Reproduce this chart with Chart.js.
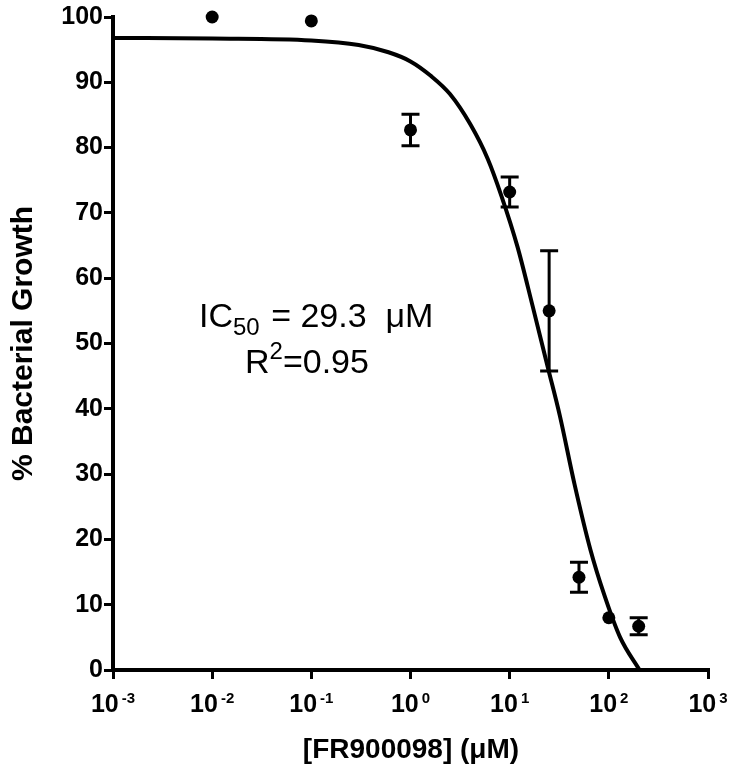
<!DOCTYPE html>
<html><head><meta charset="utf-8">
<script src="https://cdn.jsdelivr.net/npm/chart.js@4"></script>
<style>html,body{margin:0;padding:0;background:#fff}#wrap{width:732px;height:784px;position:relative}</style>
</head><body><div id="wrap"><canvas id="c"></canvas></div>
<script>
// Measured data (concentration in µM, % growth, ± error)
const concentrations = [0.01, 0.1, 1, 10, 25, 50, 100, 200];
const growth = [100, 99.4, 82.7, 73.2, 55.0, 14.2, 8.0, 6.7];
const errors = [0, 0, 2.4, 2.3, 9.2, 2.3, 0, 1.3];
// Fitted curve
const fitX = [0.001, 0.01, 0.1, 0.3, 0.6, 1.0, 1.6, 2.5, 4, 6, 8.3, 12, 17, 24.3, 32, 45, 65, 90, 130, 204];
const fitY = [96.8, 96.7, 96.4, 95.7, 94.6, 93.2, 91.0, 88.2, 83.6, 78.3, 72.5, 64.8, 55.8, 46.3, 39.0, 28.5, 18.5, 11.5, 5.0, 0];
const xTickExponents = [-3, -2, -1, 0, 1, 2, 3];
const yTickValues = [0, 10, 20, 30, 40, 50, 60, 70, 80, 90, 100];
const xTitle = '[FR900098] (\u03bcM)';
const yTitle = '% Bacterial Growth';

const FONT = '"Liberation Sans", Arial, Helvetica, sans-serif';

const errorBars = {
  id: 'errorBars',
  afterDatasetsDraw(chart) {
    const ctx = chart.ctx, xs = chart.scales.x, ys = chart.scales.y;
    ctx.save();
    ctx.strokeStyle = '#000';
    ctx.lineWidth = 3;
    concentrations.forEach((c, i) => {
      if (!errors[i]) return;
      const px = xs.getPixelForValue(c);
      const top = ys.getPixelForValue(growth[i] + errors[i]);
      const bot = ys.getPixelForValue(growth[i] - errors[i]);
      ctx.beginPath();
      ctx.moveTo(px, top); ctx.lineTo(px, bot);
      ctx.moveTo(px - 9, top); ctx.lineTo(px + 9, top);
      ctx.moveTo(px - 9, bot); ctx.lineTo(px + 9, bot);
      ctx.stroke();
    });
    ctx.restore();
  }
};

const customText = {
  id: 'customText',
  afterDraw(chart) {
    const ctx = chart.ctx, xs = chart.scales.x;
    ctx.save();
    ctx.fillStyle = '#000';
    ctx.textBaseline = 'alphabetic';
    ctx.textAlign = 'left';
    // x tick labels 10^n
    xTickExponents.forEach(e => {
      const px = xs.getPixelForValue(Math.pow(10, e));
      const sup = e < 0 ? '-' + Math.abs(e) : String(e);
      ctx.font = 'bold 25px ' + FONT;
      const w1 = ctx.measureText('10').width;
      ctx.font = 'bold 15px ' + FONT;
      const w2 = ctx.measureText(sup).width;
      const start = px - (w1 + w2 + 3) / 2;
      ctx.font = 'bold 25px ' + FONT;
      ctx.fillText('10', start, 712);
      ctx.font = 'bold 15px ' + FONT;
      ctx.fillText(sup, start + w1 + 3, 703);
    });
    // x title
    ctx.font = 'bold 28px ' + FONT;
    ctx.textAlign = 'center';
    ctx.fillText(xTitle, 411, 758);
    // annotation
    ctx.textAlign = 'left';
    let x = 199;
    ctx.font = '34px ' + FONT;
    ctx.fillText('IC', x, 327); x += ctx.measureText('IC').width;
    ctx.font = '24px ' + FONT;
    ctx.fillText('50', x, 335); x += ctx.measureText('50').width + 2;
    ctx.font = '34px ' + FONT;
    ctx.fillText(' = 29.3  \u03bcM', x, 327);
    x = 245;
    ctx.fillText('R', x, 373); x += ctx.measureText('R').width;
    ctx.font = '24px ' + FONT;
    ctx.fillText('2', x, 359); x += ctx.measureText('2').width;
    ctx.font = '34px ' + FONT;
    ctx.fillText('=0.95', x, 373);
    ctx.restore();
  }
};

new Chart(document.getElementById('c'), {
  type: 'scatter',
  data: {
    datasets: [
      {
        label: 'fit',
        data: fitX.map((v, i) => ({ x: v, y: fitY[i] })),
        showLine: true,
        borderColor: '#000',
        borderWidth: 4,
        pointRadius: 0,
        cubicInterpolationMode: 'monotone',
        fill: false
      },
      {
        label: 'data',
        data: concentrations.map((v, i) => ({ x: v, y: growth[i] })),
        showLine: false,
        clip: false,
        backgroundColor: '#000',
        borderColor: '#000',
        pointRadius: 6.5,
        pointBorderWidth: 0
      }
    ]
  },
  options: {
    responsive: true,
    maintainAspectRatio: false,
    animation: false,
    devicePixelRatio: 1,
    layout: { padding: { top: 17, right: 24, left: 6, bottom: 0 } },
    plugins: { legend: { display: false }, tooltip: { enabled: false } },
    scales: {
      x: {
        type: 'logarithmic',
        min: 0.001,
        max: 1000,
        afterBuildTicks: s => { s.ticks = xTickExponents.map(e => ({ value: Math.pow(10, e) })); },
        afterFit: s => { s.height = 114; },
        ticks: { callback: () => '', autoSkip: false },
        grid: { drawOnChartArea: false, drawTicks: true, tickLength: 9, lineWidth: 3, color: '#000' },
        border: { color: '#000', width: 4 }
      },
      y: {
        min: 0,
        max: 100,
        afterBuildTicks: s => { s.ticks = yTickValues.map(v => ({ value: v })); },
        afterFit: s => { s.width = 107; },
        ticks: { color: '#000', font: { family: FONT, size: 25, weight: 'bold' }, padding: 1 },
        grid: { drawOnChartArea: false, drawTicks: true, tickLength: 9, lineWidth: 3, color: '#000' },
        border: { color: '#000', width: 4 },
        title: { display: true, text: yTitle, color: '#000', font: { family: FONT, size: 30, weight: 'bold' }, padding: 0 }
      }
    }
  },
  plugins: [errorBars, customText]
});
</script>
</body></html>
